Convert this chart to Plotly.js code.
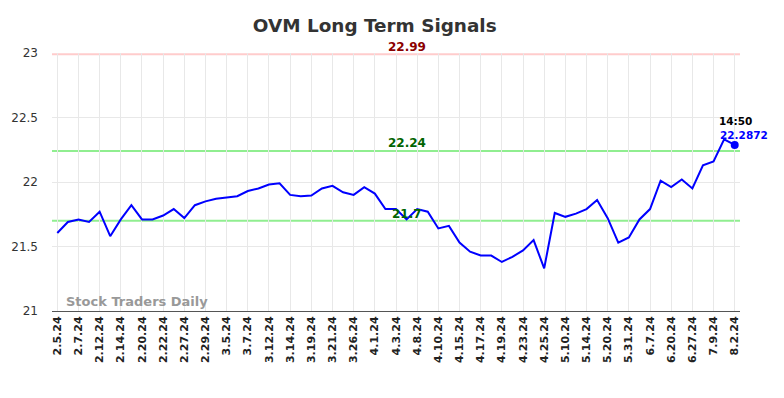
<!DOCTYPE html>
<html>
<head>
<meta charset="utf-8">
<script src="https://cdn.plot.ly/plotly-3.0.1.min.js"></script>
<style>html,body{margin:0;padding:0;background:#fff;}#chart{width:784px;height:398px;}</style>
</head>
<body>
<div id="chart"></div>
<script>
const tickLabels = ["2.5.24","2.7.24","2.12.24","2.14.24","2.20.24","2.22.24","2.27.24","2.29.24","3.5.24","3.7.24","3.12.24","3.14.24","3.19.24","3.21.24","3.26.24","4.1.24","4.3.24","4.8.24","4.10.24","4.15.24","4.17.24","4.19.24","4.23.24","4.25.24","5.10.24","5.14.24","5.20.24","5.31.24","6.7.24","6.20.24","6.27.24","7.9.24","8.2.24"];
const prices = [21.605,21.69,21.71,21.69,21.77,21.58,21.71,21.82,21.71,21.71,21.74,21.79,21.72,21.82,21.85,21.87,21.88,21.89,21.93,21.95,21.98,21.99,21.90,21.89,21.895,21.95,21.97,21.92,21.90,21.96,21.91,21.79,21.79,21.71,21.79,21.77,21.64,21.66,21.53,21.46,21.43,21.43,21.38,21.42,21.47,21.55,21.33,21.76,21.73,21.755,21.79,21.86,21.72,21.53,21.57,21.71,21.79,22.01,21.96,22.02,21.95,22.13,22.16,22.33,22.2872];
const upperSignal = 22.99;
const midSignal = 22.24;
const lowerSignal = 21.7;
const lastTime = "14:50";
const lastValue = 22.2872;

const xs = prices.map((_, i) => i);
const tickVals = tickLabels.map((_, i) => i * 2);
const n = prices.length;
const labelX = 33;

const traces = [
  {x: xs, y: prices, type: 'scatter', mode: 'lines', line: {color: '#0000ff', width: 2}, hoverinfo: 'skip'},
  {x: [n - 1], y: [lastValue], type: 'scatter', mode: 'markers', marker: {color: '#0000ff', size: 8}, hoverinfo: 'skip'}
];

const hline = (v, c) => ({type: 'line', xref: 'paper', x0: 0, x1: 1, yref: 'y', y0: v, y1: v, line: {color: c, width: 2}, layer: 'below'});

const layout = {
  width: 784, height: 398,
  margin: {l: 52, r: 44, t: 53, b: 87},
  paper_bgcolor: '#fff', plot_bgcolor: '#fff',
  showlegend: false,
  title: {text: 'OVM Long Term Signals', x: 0.478, xanchor: 'center', y: 0.935, yanchor: 'middle', font: {family: 'DejaVu Sans, sans-serif', size: 18.4, color: '#333', weight: 'bold'}},
  xaxis: {range: [-0.5, n - 0.5], tickvals: tickVals, ticktext: tickLabels, tickangle: -90, showgrid: true, gridcolor: '#e8e8e8', gridwidth: 1, zeroline: false, showline: true, linecolor: '#555', linewidth: 1, ticks: '', tickfont: {family: 'DejaVu Sans, sans-serif', size: 11, color: '#222', weight: 'bold'}},
  yaxis: {range: [21, 23], tickvals: [21, 21.5, 22, 22.5, 23], ticktext: ['21','21.5','22','22.5','23'], showgrid: true, gridcolor: '#e8e8e8', zeroline: false, showline: false, ticks: '', ticklen: 0, ticklabelstandoff: 13, tickfont: {family: 'DejaVu Sans, sans-serif', size: 12, color: '#333'}},
  shapes: [hline(upperSignal, '#ffcccc'), hline(midSignal, '#90ee90'), hline(lowerSignal, '#90ee90')],
  annotations: [
    {x: labelX, y: upperSignal, yshift: 7, text: String(upperSignal), showarrow: false, font: {family: 'DejaVu Sans, sans-serif', size: 12, color: '#8b0000', weight: 'bold'}},
    {x: labelX, y: midSignal, yshift: 8, text: String(midSignal), showarrow: false, font: {family: 'DejaVu Sans, sans-serif', size: 12, color: '#006400', weight: 'bold'}},
    {x: labelX, y: lowerSignal, yshift: 7, text: String(lowerSignal), showarrow: false, font: {family: 'DejaVu Sans, sans-serif', size: 12, color: '#006400', weight: 'bold'}},
    {x: n - 1, y: lastValue, yshift: 24, xshift: 1, text: lastTime, showarrow: false, font: {family: 'DejaVu Sans, sans-serif', size: 10.5, color: '#000', weight: 'bold'}},
    {x: n - 1, y: lastValue, yshift: 10, xshift: 9, text: String(lastValue), showarrow: false, font: {family: 'DejaVu Sans, sans-serif', size: 10.5, color: '#0000ff', weight: 'bold'}},
    {xref: 'paper', yref: 'paper', x: 0.017, y: 0.0, yanchor: 'bottom', xanchor: 'left', text: 'Stock Traders Daily', showarrow: false, font: {family: 'DejaVu Sans, sans-serif', size: 13, color: '#999', weight: 'bold'}}
  ]
};

Plotly.newPlot('chart', traces, layout, {staticPlot: true, displayModeBar: false});
</script>
</body>
</html>
